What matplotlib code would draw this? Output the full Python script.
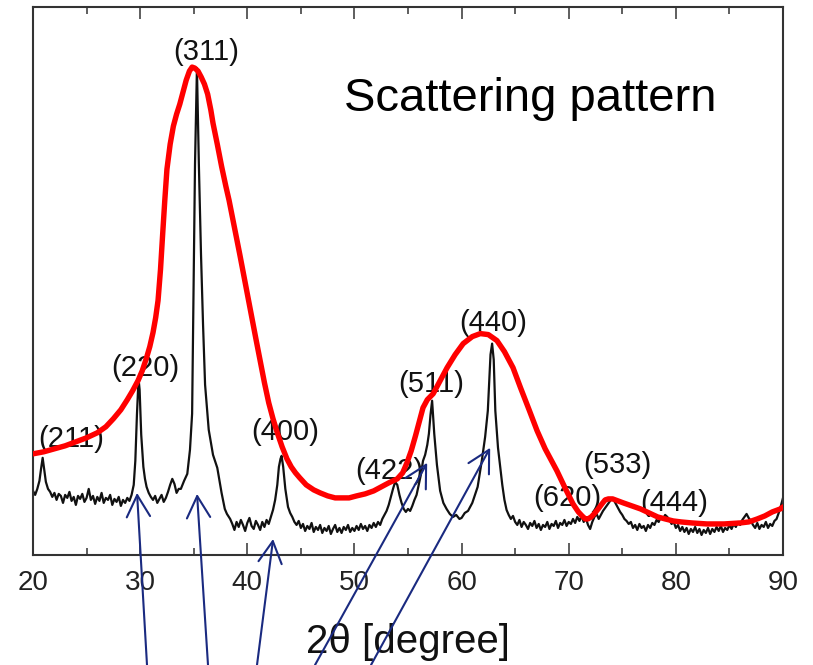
import matplotlib
matplotlib.use("Agg")
import matplotlib.pyplot as plt
from matplotlib.patches import ArrowStyle

plt.rcParams['font.family'] = ['Liberation Sans', 'DejaVu Sans']

# measured XRD trace (2theta, intensity a.u.)
two_theta = [20.0, 20.2, 20.4, 20.6, 20.75, 20.9, 21.05, 21.2, 21.4,
             21.6, 21.8, 22.0, 22.2, 22.4, 22.6, 22.8, 23.0, 23.2, 23.4, 23.6, 23.8, 24.0, 24.2,
             24.4, 24.6, 24.8, 25.0, 25.2, 25.4, 25.6, 25.8, 26.0, 26.2, 26.4, 26.6, 26.8, 27.0,
             27.2, 27.4, 27.6, 27.8, 28.0, 28.2, 28.4, 28.6, 28.8, 29.0, 29.2,
             29.4, 29.55, 29.7, 29.85, 29.95, 30.1, 30.3, 30.45,
             30.6, 30.8, 31.0, 31.2, 31.4, 31.6, 31.8, 32.0, 32.2, 32.4, 32.6, 32.8, 33.0, 33.2,
             33.4, 33.6, 33.8, 34.1, 34.4, 34.65, 34.85, 34.97, 35.12, 35.3, 35.48, 35.68, 35.87,
             36.06, 36.4, 36.8, 37.2, 37.6, 37.9, 38.1,
             38.4, 38.6, 38.8, 39.0, 39.2, 39.4, 39.6, 39.8, 40.0, 40.2, 40.4, 40.6, 40.8, 41.0,
             41.2, 41.4, 41.6, 41.8, 42.0, 42.2, 42.4, 42.6, 42.8, 42.95, 43.1, 43.2, 43.35, 43.55,
             43.8, 44.0,
             44.2, 44.4, 44.6, 44.8, 45.0, 45.2, 45.4, 45.6, 45.8, 46.0, 46.2, 46.4, 46.6, 46.8,
             47.0, 47.2, 47.4, 47.6, 47.8, 48.0, 48.2, 48.4, 48.6, 48.8, 49.0, 49.2, 49.4, 49.6,
             49.8, 50.0, 50.2, 50.4, 50.6, 50.8, 51.0, 51.2, 51.4, 51.6, 51.8, 52.0, 52.2, 52.4,
             52.6, 52.8, 53.0, 53.2, 53.4, 53.6, 53.8, 54.0, 54.2, 54.4, 54.6, 54.8, 55.0, 55.2,
             55.4, 55.6, 55.8, 56.0, 56.2, 56.4, 56.6, 56.8, 56.95, 57.1, 57.25, 57.45, 57.7,
             58.0, 58.3, 58.6, 58.9, 59.2, 59.5, 59.8, 60.0, 60.3, 60.6, 61.0, 61.5, 61.9, 62.2,
             62.45, 62.7, 62.85, 63.0, 63.15, 63.4, 63.8, 64.0,
             64.2, 64.4, 64.6, 64.8, 65.0, 65.2, 65.4, 65.6, 65.8, 66.0, 66.2, 66.4, 66.6, 66.8,
             67.0, 67.2, 67.4, 67.6, 67.8, 68.0, 68.2, 68.4, 68.6, 68.8, 69.0, 69.2, 69.4, 69.6,
             69.8, 70.0, 70.2, 70.4, 70.6, 70.8, 71.0, 71.2, 71.4, 71.6, 71.8, 72.0, 72.2, 72.4,
             72.6, 72.8, 73.0, 73.2, 73.4, 73.6, 73.8, 74.0, 74.2, 74.4, 74.6, 74.8, 75.0, 75.2,
             75.4, 75.6, 75.8, 76.0, 76.2, 76.4, 76.6, 76.8, 77.0, 77.2, 77.4, 77.6, 77.8, 78.0,
             78.2, 78.4, 78.6, 78.8, 79.0, 79.2, 79.4, 79.6, 79.8, 80.0, 80.2, 80.4, 80.6, 80.8,
             81.0, 81.2, 81.4, 81.6, 81.8, 82.0, 82.2, 82.4, 82.6, 82.8, 83.0, 83.2, 83.4, 83.6,
             83.8, 84.0, 84.2, 84.4, 84.6, 84.8, 85.0, 85.2, 85.4, 85.6, 85.8, 86.0, 86.2, 86.4,
             86.6, 86.8, 87.0, 87.2, 87.4, 87.6, 87.8, 88.0, 88.2, 88.4, 88.6, 88.8, 89.0, 89.2,
             89.4, 89.6, 89.8, 90.0]
intensity = [64, 60, 66, 74, 86, 97, 85, 73, 66,
             63, 58, 62, 55, 61, 59, 52, 60, 57, 63, 54, 58, 50, 59,
             56, 61, 53, 57, 66, 55, 59, 51, 58, 54, 62, 52, 57, 55,
             60, 50, 56, 53, 58, 49, 55, 52, 57, 54, 60,
             70, 94, 140, 176, 165, 120, 88, 76,
             68, 62, 58, 55, 59, 52, 56, 60, 53, 57, 63, 70, 76, 71,
             62, 66, 66, 74, 81, 105, 141, 254, 390, 486, 390, 300, 230,
             170, 125, 100, 87, 62, 46, 41,
             36, 31, 25, 33, 28, 35, 30, 24, 32, 37, 29, 26, 34, 30,
             25, 33, 28, 35, 31, 38, 45, 55, 70, 88, 96, 99, 88, 66,
             48, 42,
             38, 33, 30, 34, 27, 31, 24, 29, 26, 32, 23, 28, 25, 30,
             22, 27, 24, 29, 21, 26, 30, 23, 27, 22, 28, 25, 30, 23,
             27, 24, 29, 25, 31, 26, 29, 24, 30, 27, 32, 28, 33, 30,
             36, 40, 44, 50, 58, 66, 73, 70, 60, 52, 46, 43, 46, 44,
             49, 55, 60, 70, 80, 94, 100, 110, 121, 140, 154, 121, 90,
             64, 52, 46, 41, 38, 40, 36, 37, 42, 44, 52, 68, 95, 118,
             144, 200, 211, 195, 144, 107, 70, 55,
             45, 40, 36, 39, 33, 30, 35, 28, 33, 30, 26, 32, 29, 34,
             27, 31, 25, 30, 28, 33, 26, 31, 29, 34, 27, 32, 30, 35,
             29, 33, 31, 36, 32, 38, 34, 39, 33, 37, 30, 26, 33, 38,
             41, 36, 40, 44, 47, 50, 53, 56, 55, 51, 47, 43, 40, 36,
             34, 31, 33, 27, 30, 25, 31, 27, 29, 24, 30, 27, 32, 30,
             35, 33, 38, 36, 40, 38, 35, 31, 33, 27, 30, 24, 28, 23,
             27, 21, 26, 23, 28, 22, 26, 20, 25, 22, 27, 21, 26, 23,
             28, 24, 29, 23, 27, 25, 30, 26, 31, 28, 33, 30, 35, 38,
             41, 37, 34, 30, 27, 32, 26, 30, 28, 33, 27, 31, 29, 34,
             36, 42, 49, 57]

# hand drawn envelope (red)
env_x = [20.0, 21.0, 22.0, 23.0, 24.0, 25.0, 26.0, 26.8, 27.5, 28.2, 28.8, 29.3, 29.8, 30.2,
         30.6, 30.9, 31.2, 31.45, 31.67, 31.9, 32.1, 32.3, 32.5, 32.8, 33.1, 33.4, 33.7, 34.0,
         34.3, 34.6, 34.85, 35.1, 35.4, 35.7, 36.0, 36.3, 36.6, 36.8, 37.2, 37.6, 38.0, 38.3,
         38.8, 39.3, 39.8, 40.3, 40.8, 41.2, 41.6, 42.0, 42.4, 42.8, 43.25, 43.7, 44.1, 44.5,
         44.9, 45.5, 46.2, 46.8, 47.5, 48.2, 48.8, 49.5, 50.2, 51.0, 51.8, 52.5, 53.2, 54.0,
         54.5, 54.9, 55.3, 55.7, 56.1, 56.4, 56.8, 57.35, 58.0, 58.65, 59.4, 60.15, 61.0, 61.75,
         62.5, 63.3, 64.0, 64.8, 65.5, 66.3, 67.05, 67.8, 68.9, 69.7, 70.4, 70.9, 71.25, 71.55,
         71.8, 72.1, 72.45, 72.75, 73.1, 73.4, 73.7, 74.1, 74.6, 75.1, 75.9, 76.7, 77.5, 78.3,
         79.0, 79.75, 80.5, 81.5, 82.9, 84.5, 86.0, 86.8, 87.6, 88.3, 89.0, 89.75, 90.0]
env_y = [101, 103, 106, 109, 113, 117, 122, 128, 136, 145, 155, 164, 174, 184,
         197, 208, 222, 237, 254, 285, 320, 354, 385, 410, 428, 440, 450, 462,
         474, 483, 487, 486, 483, 477, 470, 460, 444, 431, 410, 388, 368, 354,
         327, 300, 272, 244, 216, 194, 172, 152, 136, 122, 108, 96, 88, 82,
         77, 70, 65, 62, 59, 57, 57, 57, 59, 61, 64, 68, 72, 76,
         82, 92, 104, 119, 135, 147, 155, 161, 174, 187, 200, 211, 218, 221,
         220, 214, 203, 187, 167, 145, 124, 106, 84, 66, 51, 43, 39, 36,
         36, 38, 42, 46, 51, 55, 56, 56, 54, 52, 49, 46, 42, 38,
         36, 34, 33, 32, 31, 31, 32, 33, 36, 39, 43, 46, 48]

peak_labels = ['(211)', '(220)', '(311)', '(400)', '(422)', '(511)', '(440)', '(620)', '(533)', '(444)']
label_x = [23.55, 30.46, 36.2, 43.5, 53.3, 57.16, 62.95, 69.86, 74.5, 79.85]
label_y = [116, 187, 502, 123, 84, 171, 232, 57, 90, 52]

arrow_x = [29.71, 35.31, 42.41, 56.79, 62.67]
arrow_y = [62, 61, 16, 92, 107]
arrow_tail = [(147, 0), (208, 0), (257, 0), (315, 0), (371, 0)]

xticks = [20, 30, 40, 50, 60, 70, 80, 90]

fig = plt.figure(figsize=(8.13, 6.65), dpi=100)
ax = fig.add_axes([0.0406, 0.1654, 0.9225, 0.8241])

ax.plot(two_theta, intensity, color='#111111', lw=1.6, zorder=2)

for lab, lx, ly in zip(peak_labels, label_x, label_y):
    ax.text(lx, ly, lab, fontsize=21, color='#111111', ha='center', va='center', zorder=3)

ax.plot(env_x, env_y, color='#ff0000', lw=3.9, solid_capstyle='round',
        solid_joinstyle='round', zorder=4)

ax.text(66.4, 455, 'Scattering pattern', fontsize=34, color='black', ha='center', va='center', zorder=3)

style = ArrowStyle('->', head_length=1.3, head_width=0.7)
for ax_, ay_, tail in zip(arrow_x, arrow_y, arrow_tail):
    ax.annotate('', xy=(ax_, ay_), xycoords='data', xytext=tail, textcoords='figure pixels',
                arrowprops=dict(arrowstyle=style, color='#1a2a80', lw=1.5, mutation_scale=12,
                                shrinkA=0, shrinkB=0),
                annotation_clip=False, zorder=6)

ax.set_xlim(20, 90)
ax.set_ylim(0, 547)
ax.set_xticks(xticks)
ax.set_xticks(range(25, 90, 10), minor=True)
ax.set_yticks([])
ax.tick_params(axis='x', which='both', direction='in', top=True, width=1.1, color='#333333',
               labelsize=20, labelcolor='#222222', pad=11)
ax.tick_params(axis='x', which='major', length=8.6)
ax.tick_params(axis='x', which='minor', length=5)
for sp in ax.spines.values():
    sp.set_linewidth(1.5)
    sp.set_color('#333333')

ax.set_xlabel('2θ [degree]', fontsize=29, color='#111111', labelpad=19)

plt.savefig('out.png', dpi=100)
